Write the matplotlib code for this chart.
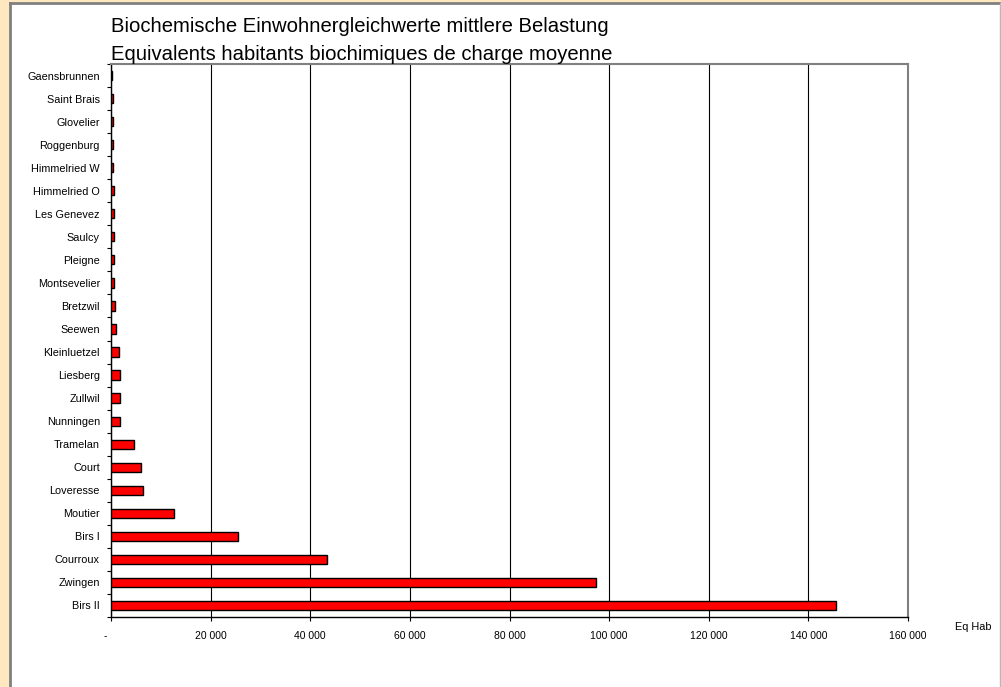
import matplotlib; matplotlib.use("Agg")
import matplotlib.pyplot as plt
from matplotlib.patches import Rectangle
from matplotlib.lines import Line2D
from matplotlib.ticker import FuncFormatter, MultipleLocator
import numpy as np

plt.rcParams.update({"font.family": ["Liberation Sans", "DejaVu Sans"], "font.size": 7.5})

stations = ["Gaensbrunnen", "Saint Brais", "Glovelier", "Roggenburg", "Himmelried W",
            "Himmelried O", "Les Genevez", "Saulcy", "Pleigne", "Montsevelier", "Bretzwil",
            "Seewen", "Kleinluetzel", "Liesberg", "Zullwil", "Nunningen", "Tramelan", "Court",
            "Loveresse", "Moutier", "Birs I", "Courroux", "Zwingen", "Birs II"]
eq_hab = [300, 350, 400, 420, 480, 550, 650, 650, 650, 680, 750, 1100, 1550, 1800,
          1850, 1900, 4600, 6000, 6400, 12600, 25400, 43300, 97400, 145500]
title_de = "Biochemische Einwohnergleichwerte mittlere Belastung"
title_fr = "Equivalents habitants biochimiques de charge moyenne"

W, H = 1001, 687
fig = plt.figure(figsize=(W/100, H/100), dpi=100, facecolor="#ffe8bf")
# white panel with border
fig.patches.append(Rectangle((10/W, 0), 990/W, 1-3/H, transform=fig.transFigure,
                             facecolor="white", edgecolor="none", zorder=-5))
fig.lines.append(Line2D([10/W, 10/W], [0, 1-3/H], transform=fig.transFigure, color="#808080", lw=2, zorder=-4))
fig.lines.append(Line2D([10/W, 1000/W], [1-3/H, 1-3/H], transform=fig.transFigure, color="#808080", lw=2, zorder=-4))
fig.lines.append(Line2D([999.5/W, 999.5/W], [0, 1-3/H], transform=fig.transFigure, color="#b8b8b8", lw=1, zorder=-4))

ax = fig.add_axes([111/W, 1-617/H, 797/W, 553/H])
ax.set_zorder(2)
ax.set_facecolor("white")
y = np.arange(len(stations))
ax.barh(y, eq_hab, height=0.4, color="#ff0000", edgecolor="black", lw=1.0, zorder=3)
ax.set_ylim(len(stations)-0.5, -0.5)
ax.set_xlim(0, 160000)

ax.set_yticks(y)
ax.set_yticklabels(stations, fontsize=7.8)
ax.set_yticks(np.arange(len(stations)+1)-0.5, minor=True)
ax.tick_params(axis="y", which="major", length=0, pad=8)
ax.tick_params(axis="y", which="minor", length=3, width=0.8, direction="out")

ax.xaxis.set_major_locator(MultipleLocator(20000))
ax.xaxis.set_major_formatter(FuncFormatter(lambda v, p: "-    " if v == 0 else f"{v:,.0f}".replace(",", " ")))
ax.tick_params(axis="x", length=3, width=0.8, pad=7)
ax.grid(axis="x", color="black", lw=0.8, zorder=1)
ax.set_axisbelow(True)

for s in ["left", "bottom"]:
    ax.spines[s].set_color("black"); ax.spines[s].set_linewidth(1)
for s in ["top", "right"]:
    ax.spines[s].set_color("#808080"); ax.spines[s].set_linewidth(1.5)

fig.text(111/W, 1-31.5/H, title_de, fontsize=14.6, va="baseline", ha="left")
fig.text(111/W, 1-60/H, title_fr, fontsize=14.6, va="baseline", ha="left")
fig.text(973/W, 1-627/H, "Eq Hab", fontsize=7.8, ha="center", va="center")

fig.savefig("out.png", dpi=100, facecolor=fig.get_facecolor())
